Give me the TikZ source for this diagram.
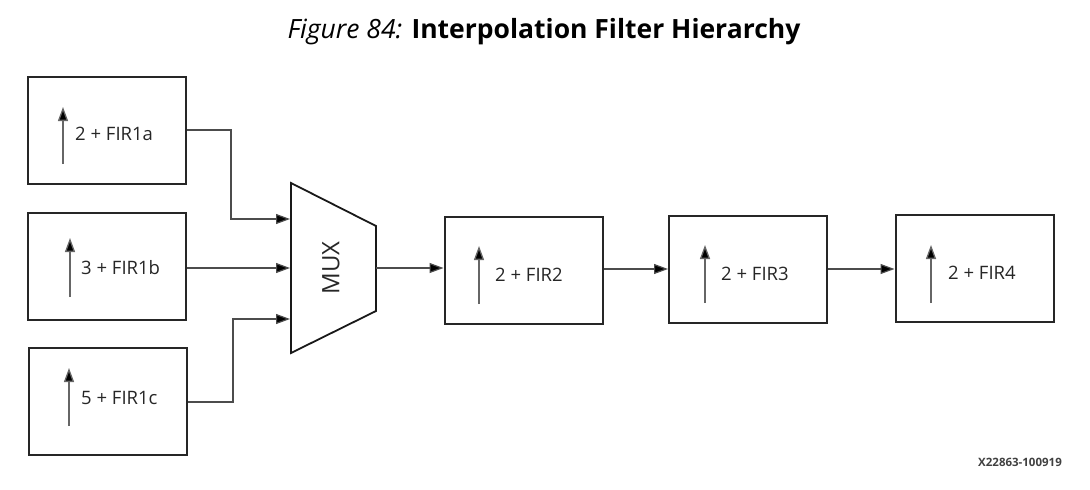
\documentclass[tikz,border=0pt]{standalone}
\usepackage{fontspec}
\setmainfont{Open Sans}
\newfontfamily\lblfont{Open Sans}
\usetikzlibrary{arrows.meta}
\begin{document}
\begin{tikzpicture}[x=1pt,y=-1pt,
  blk/.style={draw=black!85,line width=2pt,minimum width=158pt,minimum height=107pt,inner sep=0pt},
  lbl/.style={font=\lblfont\fontsize{18.5}{22}\selectfont,text=black!85,anchor=west,inner sep=0pt},
  uparr/.style={draw=black!60,line width=1.3pt,-{Triangle[length=14pt,width=10pt,fill=black]}},
  conn/.style={draw=black!70,line width=1.2pt,-{Triangle[length=14pt,width=10pt,fill=black]}},
  wire/.style={draw=black!70,line width=1.2pt}]
\useasboundingbox (0,0) rectangle (1090,490);
% title
\node (title) at (544,32) {\fontsize{26.5}{31}\selectfont\textit{Figure 84:} \textbf{Interpolation Filter Hierarchy}};
% blocks
\node[blk] (a) at (106.5,130) {};
\node[blk] (b) at (106.5,266.5) {};
\node[blk] (c) at (108,401.5) {};
\node[blk] (f2) at (523.5,270.5) {};
\node[blk] (f3) at (748,269) {};
\node[blk] (f4) at (974.5,268) {};
% labels
\node[lbl] (la) at (75,134) {2 + FIR1a};
\node[lbl] (lb) at (81,268) {3 + FIR1b};
\node[lbl] (lc) at (81,398) {5 + FIR1c};
\node[lbl] (l2) at (495,275) {2 + FIR2};
\node[lbl] (l3) at (721,274) {2 + FIR3};
\node[lbl] (l4) at (948,273) {2 + FIR4};
% up arrows
\draw[uparr] (63,164) -- (63,107);
\draw[uparr] (70,297) -- (70,238);
\draw[uparr] (69,426) -- (69,368);
\draw[uparr] (479,304) -- (479,246);
\draw[uparr] (705,303) -- (705,245);
\draw[uparr] (931,303) -- (931,245);
% mux
\coordinate (m1) at (291,183);
\coordinate (m2) at (376,226);
\coordinate (m3) at (376,311);
\coordinate (m4) at (291,353);
\draw[line width=1.8pt,line join=miter,draw=black!90] (m1) -- (m2) -- (m3) -- (m4) -- cycle;
\node[rotate=90,font=\lblfont\fontsize{24}{28}\selectfont,text=black!85] (mux) at (331,268) {MUX};
\coordinate (in1) at (290,219);
\coordinate (in2) at (290,268);
\coordinate (in3) at (290,319);
\coordinate (out) at (376,268);
% connectors
\draw[conn] (a.east |- 0,130) -| (231,219) -- (in1);
\draw[conn] (b.east |- 0,268) -- (in2);
\draw[conn] (c.east |- 0,402) -| (233,319) -- (in3);
\draw[conn] (out) -- (f2.west |- out);
\draw[conn] (f2.east |- 0,269) -- (f3.west |- 0,269);
\draw[conn] (f3.east |- 0,269) -- (f4.west |- 0,269);
% code
\node[font=\lblfont\bfseries\fontsize{11.5}{13}\selectfont,text=black!75] (code) at (1020,462) {X22863-100919};
\end{tikzpicture}
\end{document}
